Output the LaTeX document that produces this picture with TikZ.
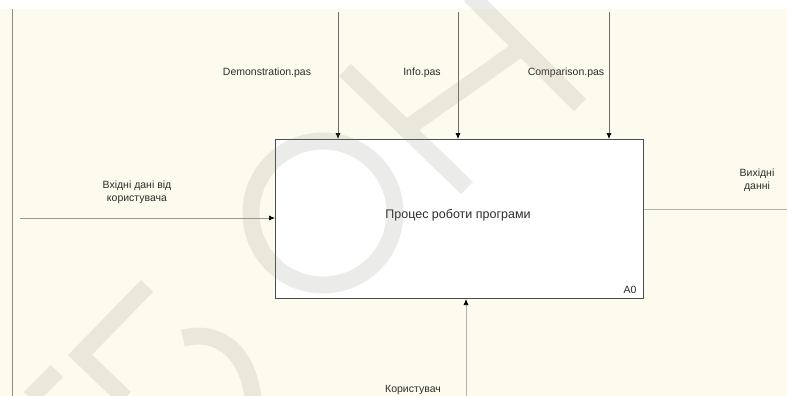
\documentclass[tikz,border=0pt]{standalone}
\usepackage{fontspec}
\setmainfont{Liberation Sans}
\usetikzlibrary{arrows.meta}
\definecolor{paper}{RGB}{253,251,237}
\definecolor{inkgray}{RGB}{45,45,45}
\definecolor{flowline}{RGB}{110,110,110}
\definecolor{stamp}{RGB}{140,140,128}
\tikzset{
  lbl/.style={text=inkgray, font=\fontsize{10.5}{13}\selectfont, align=center, inner sep=0pt},
  func/.style={draw=black!70, line width=1pt, fill=white, minimum width=368pt,
               minimum height=159pt, inner sep=0pt, anchor=north west},
  flow/.style={draw=flowline, line width=0.7pt},
  flowarr/.style={flow, -{Latex[length=6pt,width=5pt,black]}},
}
\begin{document}
\begin{tikzpicture}[x=1pt,y=-1pt]
  \useasboundingbox (0,0) rectangle (787,396);
  % sheet
  \fill[white] (0,0) rectangle (787,9);
  \fill[paper] (0,9) rectangle (787,396);
  \coordinate (frameTop) at (12,9);
  \coordinate (frameBot) at (12,396);
  \draw[black!45, line width=0.8pt] (frameTop) -- (frameBot);

  % activity box
  \node[func] (box) at (275,139) {};
  \node[text=inkgray, font=\fontsize{12.5}{15}\selectfont, inner sep=0pt] (title) at (458,215) {Процес роботи програми};
  \node[text=inkgray, font=\fontsize{10.5}{13}\selectfont, inner sep=0pt] (num) at (630,290) {A0};

  % controls
  \coordinate (c1) at (338,12);
  \coordinate (c2) at (458,12);
  \coordinate (c3) at (609,12);
  \draw[flowarr] (c1) -- (c1 |- box.north);
  \draw[flowarr] (c2) -- (c2 |- box.north);
  \draw[flowarr] (c3) -- (c3 |- box.north);
  \node[lbl] (l1) at (267,73) {Demonstration.pas};
  \node[lbl] (l2) at (422,73) {Info.pas};
  \node[lbl] (l3) at (566,73) {Comparison.pas};

  % input
  \coordinate (inp) at (20,218);
  \draw[flowarr, draw=black!40] (inp) -- (inp -| box.west);
  \node[lbl] (linp) at (137,192) {Вхідні дані від\\користувача};

  % output
  \coordinate (outp) at (787,209);
  \draw[flow, draw=black!30] (outp -| box.east) -- (outp);
  \node[lbl] (lout) at (757,180) {Вихідні\\данні};

  % mechanism
  \coordinate (mech) at (466,396);
  \draw[flowarr, draw=black!30] (mech) -- (mech |- box.south);
  \node[lbl] (lmech) at (413,390) {Користувач};

  % library stamp
  \draw[stamp, opacity=0.17, line width=17pt]
    (323,213) circle[radius=72]
    (345,70) -- (467,188)
    (470,-5) -- (580,105)
    (406,129) -- (525,45)
    (147,286) -- (80,355) -- (125,398)
    (183,338) .. controls (225,328) and (250,360) .. (253,400)
    (57,371) -- (30,398);
\end{tikzpicture}
\end{document}
